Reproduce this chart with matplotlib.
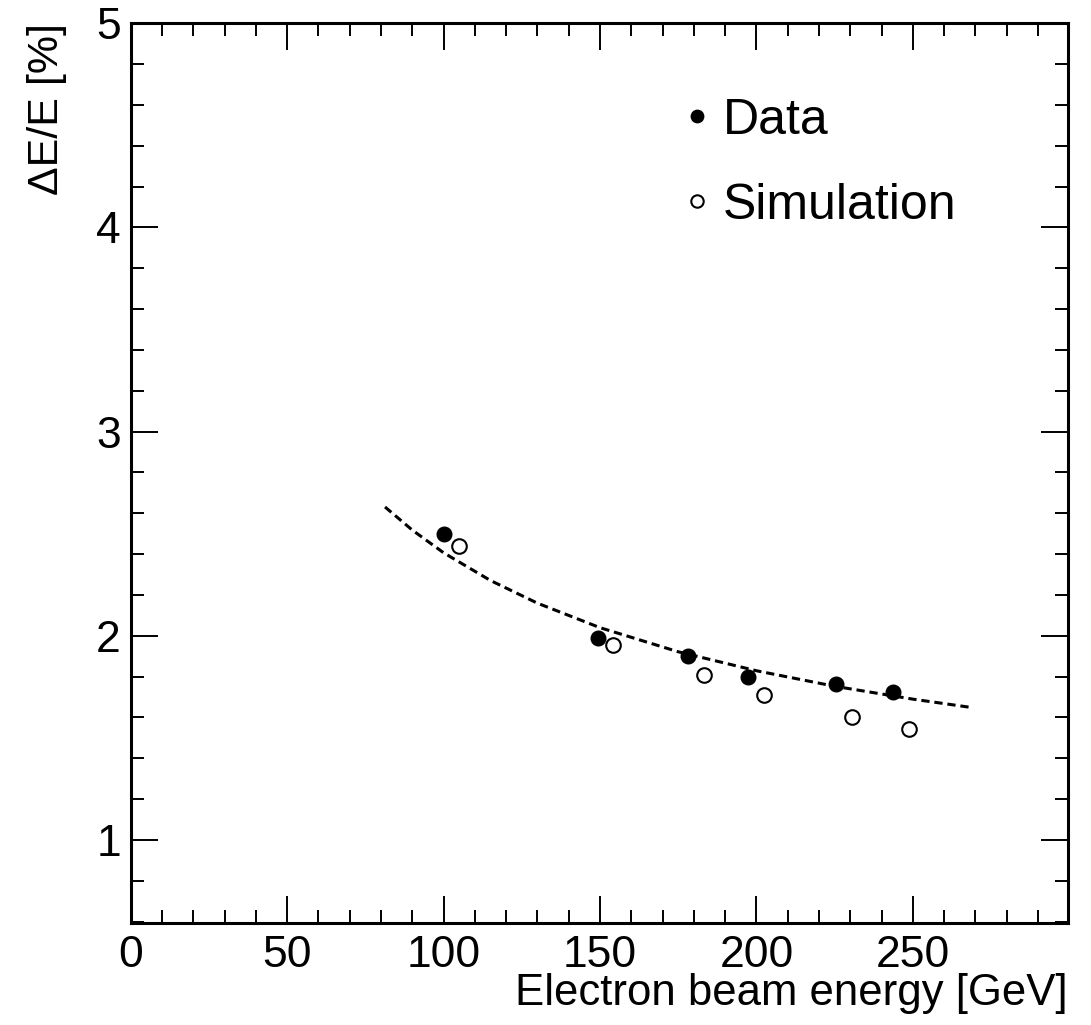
import matplotlib
matplotlib.use("Agg")
import matplotlib.pyplot as plt
from matplotlib.ticker import MultipleLocator

plt.rcParams["font.family"] = ["Liberation Sans", "DejaVu Sans"]

# measured points
data_energy = [100.0, 149.3, 178.3, 197.4, 225.5, 243.6]
data_res = [2.50, 1.99, 1.90, 1.80, 1.765, 1.725]
sim_energy = [104.9, 154.3, 183.3, 202.5, 230.5, 248.7]
sim_res = [2.44, 1.955, 1.81, 1.71, 1.60, 1.545]

# fit curve
fit_energy = [81.3, 90, 100, 115, 130, 150, 175, 200, 225, 250, 269.2]
fit_res = [2.631, 2.518, 2.407, 2.271, 2.160, 2.040, 1.922, 1.829, 1.753, 1.690, 1.648]

fig = plt.figure(figsize=(10.91, 10.25), dpi=100)
ax = fig.add_axes([0.1198, 0.0998, 0.8588, 0.8775])

ax.plot(fit_energy, fit_res, color="black", lw=2.2, ls=(0, (2.7, 1.6)))
ax.plot(data_energy, data_res, "o", color="black", ms=10.5, label="Data")
ax.plot(sim_energy, sim_res, "o", mfc="white", mec="black", mew=1.5, ms=10.5,
        label="Simulation")

ax.set_xlim(0, 299.5)
ax.set_ylim(0.595, 5)
ax.xaxis.set_major_locator(MultipleLocator(50))
ax.xaxis.set_minor_locator(MultipleLocator(10))
ax.yaxis.set_major_locator(MultipleLocator(1))
ax.yaxis.set_minor_locator(MultipleLocator(0.2))
ax.set_yticks([1, 2, 3, 4, 5])
ax.set_xticks([0, 50, 100, 150, 200, 250])

ax.tick_params(which="both", direction="in", top=True, right=True,
               labelsize=32, width=1.4)
ax.tick_params(which="major", length=19.5)
ax.tick_params(which="minor", length=9.5)
ax.tick_params(axis="x", pad=9)
ax.tick_params(axis="y", pad=7)
for s in ax.spines.values():
    s.set_linewidth(2.2)

ax.set_xlabel("Electron beam energy [GeV]", fontsize=31.5, loc="right", labelpad=-2)
ax.set_ylabel("ΔE/E [%]", fontsize=31, loc="top", labelpad=21)

leg = ax.legend(loc="upper left", bbox_to_anchor=(0.564, 0.945), frameon=False,
                fontsize=36, handlelength=0.5, handletextpad=0.27,
                borderpad=0, labelspacing=0.78, markerscale=0.85)

fig.savefig("out.png", dpi=100)
